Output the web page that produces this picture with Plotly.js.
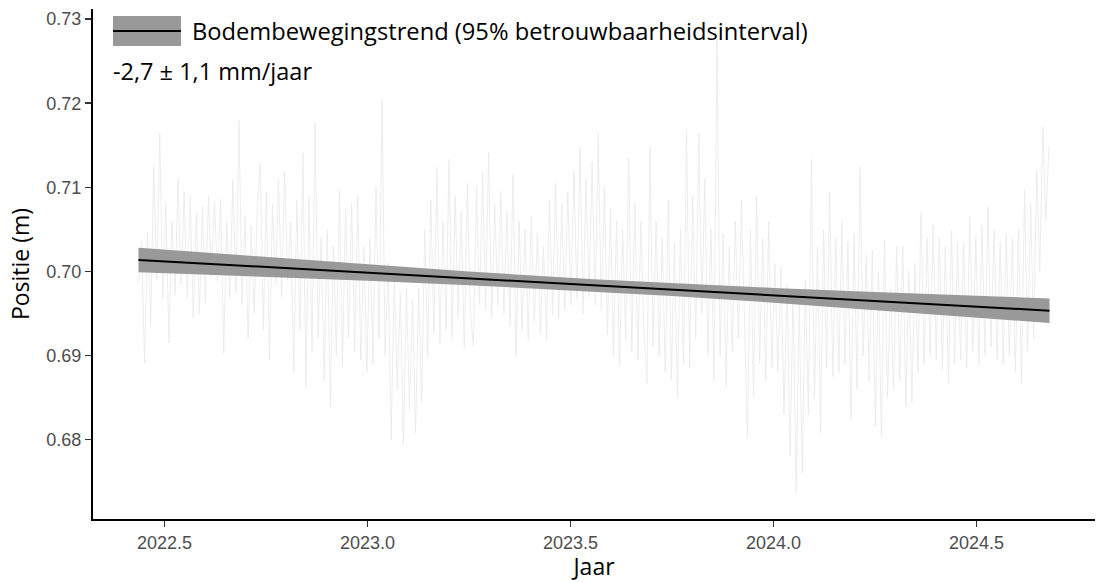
<!DOCTYPE html>
<html>
<head>
<meta charset="utf-8">
<script src="https://cdn.plot.ly/plotly-3.0.1.min.js"></script>
<style>html,body{margin:0;padding:0;background:#fff;}#chart{width:1096px;height:582px;}</style>
</head>
<body>
<div id="chart"></div>
<script>
// Gemeten positie (regelmatig bemonsterd vanaf noiseStart, stap noiseStep jaar)
const noiseStart = 2022.436;
const noiseStep = 0.0075;
const positie = [
  0.6985,0.7035,0.6891,0.7046,0.6935,0.7125,0.6990,0.7164,0.6968,0.7082,
  0.6915,0.7060,0.6972,0.7112,0.6985,0.7095,0.6968,0.7088,0.6945,0.7070,
  0.6950,0.7078,0.6962,0.7090,0.6993,0.7082,0.6988,0.7086,0.6902,0.7060,
  0.6968,0.7110,0.6975,0.7180,0.6960,0.7065,0.6920,0.7055,0.6950,0.7075,
  0.7129,0.6930,0.7095,0.6895,0.7080,0.6985,0.7110,0.6970,0.7118,0.6990,
  0.7060,0.6880,0.7085,0.6930,0.7141,0.6862,0.7090,0.6905,0.7177,0.6920,
  0.7040,0.6870,0.7050,0.6839,0.7030,0.6900,0.7097,0.6887,0.7075,0.6920,
  0.7080,0.6905,0.7090,0.6895,0.7030,0.6880,0.7040,0.6890,0.7100,0.6920,
  0.7204,0.6900,0.7010,0.6800,0.6995,0.6860,0.6975,0.6794,0.6980,0.6835,
  0.6965,0.6808,0.6980,0.6845,0.7050,0.6899,0.7085,0.6925,0.7124,0.6915,
  0.7060,0.6930,0.7133,0.6920,0.7090,0.6945,0.7070,0.6909,0.7105,0.6950,
  0.6912,0.7100,0.6960,0.7118,0.6955,0.7141,0.6945,0.7080,0.6960,0.7095,
  0.6950,0.7070,0.6935,0.7115,0.6899,0.7060,0.6930,0.7050,0.6919,0.7065,
  0.6940,0.7045,0.6925,0.7030,0.6919,0.7085,0.6950,0.7105,0.6945,0.7080,
  0.6955,0.7095,0.6960,0.7120,0.6968,0.7148,0.6950,0.7110,0.6970,0.7130,
  0.6960,0.7164,0.6955,0.7100,0.6925,0.7075,0.6900,0.7060,0.6887,0.7050,
  0.6920,0.7135,0.6905,0.7080,0.6895,0.7060,0.6930,0.6867,0.7148,0.6910,
  0.7060,0.6900,0.7040,0.6880,0.7085,0.6870,0.7035,0.6851,0.7050,0.6890,
  0.7168,0.6885,0.7090,0.6920,0.7164,0.6950,0.7110,0.6900,0.7050,0.6870,
  0.7280,0.6900,0.7045,0.6863,0.7030,0.6905,0.7060,0.6920,0.7085,0.6930,
  0.6803,0.7050,0.6851,0.7089,0.6890,0.7040,0.6870,0.7060,0.6885,0.7010,
  0.6880,0.7005,0.6830,0.6985,0.6780,0.6975,0.6737,0.6960,0.6760,0.6990,
  0.6830,0.7133,0.6850,0.7030,0.6808,0.7050,0.6885,0.7095,0.6875,0.7040,
  0.6880,0.7060,0.6890,0.7035,0.6823,0.7045,0.6860,0.7124,0.6900,0.7020,
  0.6870,0.7025,0.6815,0.7000,0.6803,0.7037,0.6850,0.6980,0.6860,0.7030,
  0.6870,0.7030,0.6839,0.7000,0.6845,0.7010,0.6880,0.7070,0.6890,0.7040,
  0.6900,0.7055,0.6895,0.7040,0.6883,0.7030,0.6867,0.7049,0.6890,0.7035,
  0.6895,0.7035,0.6885,0.7065,0.6905,0.7040,0.6890,0.7055,0.6900,0.7077,
  0.6910,0.7050,0.6895,0.7035,0.6890,0.7045,0.6900,0.7040,0.6880,0.7050,
  0.6867,0.7097,0.6905,0.7080,0.6920,0.7120,0.7000,0.7172,0.7060,0.7150
];

// Trend en 95% betrouwbaarheidsinterval
const trendX     = [2022.436, 2022.75, 2023.0, 2023.25, 2023.558, 2023.75, 2024.0, 2024.25, 2024.5, 2024.68];
const trendY     = [0.70137, 0.70053, 0.69985, 0.69918, 0.69835, 0.69784, 0.69716, 0.69649, 0.69582, 0.69533];
const bandLower  = [0.69991, 0.69936, 0.69889, 0.69837, 0.69762, 0.69708, 0.69628, 0.69542, 0.69453, 0.69387];
const bandUpper  = [0.70283, 0.70170, 0.70081, 0.69999, 0.69908, 0.69860, 0.69804, 0.69756, 0.69711, 0.69679];

const yTicks = [0.68, 0.69, 0.70, 0.71, 0.72, 0.73];
const xTicks = [2022.5, 2023.0, 2023.5, 2024.0, 2024.5];

const legendLabel = 'Bodembewegingstrend (95% betrouwbaarheidsinterval)';
const rateLabel = '-2,7 ± 1,1 mm/jaar';

const noiseX = positie.map((_, i) => noiseStart + i * noiseStep);

const textFont = 'Open Sans, Noto Sans, sans-serif';
const tickFont = 'Liberation Sans, Arial, sans-serif';

const traces = [
  {x: noiseX, y: positie, type: 'scatter', mode: 'lines',
   line: {color: 'rgb(233,233,233)', width: 0.8}, hoverinfo: 'skip', showlegend: false},
  {x: trendX, y: bandLower, type: 'scatter', mode: 'lines',
   line: {width: 0, color: 'rgba(0,0,0,0)'}, showlegend: false, hoverinfo: 'skip'},
  {x: trendX, y: bandUpper, type: 'scatter', mode: 'lines', fill: 'tonexty',
   fillcolor: 'rgb(153,153,153)', line: {width: 0, color: 'rgba(0,0,0,0)'}, showlegend: false, hoverinfo: 'skip'},
  {x: trendX, y: trendY, type: 'scatter', mode: 'lines',
   line: {color: '#000', width: 2}, showlegend: false}
];

const L = 93, R = 1, T = 9, B = 63, W = 1096, H = 582;
const pw = W - L - R, ph = H - T - B;
const px = v => (v - L) / pw;
const py = v => (H - B - v) / ph;

const layout = {
  width: W, height: H,
  margin: {l: L, r: R, t: T, b: B, pad: 0},
  paper_bgcolor: '#fff', plot_bgcolor: '#fff',
  showlegend: false,
  xaxis: {
    range: [2022.324, 2024.792],
    tickvals: xTicks, ticktext: xTicks.map(v => v.toFixed(1)),
    ticks: 'outside', ticklen: 6, tickwidth: 1.5, tickcolor: '#333',
    showline: true, linecolor: '#000', linewidth: 2,
    showgrid: false, zeroline: false,
    tickfont: {family: tickFont, size: 18, color: '#4d4d4d'},
    title: {text: 'Jaar', font: {family: textFont, size: 23, color: '#000'}, standoff: 10}
  },
  yaxis: {
    range: [0.67057, 0.7312],
    tickvals: yTicks, ticktext: yTicks.map(v => v.toFixed(2)),
    ticks: 'outside', ticklen: 6, tickwidth: 1.5, tickcolor: '#333',
    showline: true, linecolor: '#000', linewidth: 2,
    showgrid: false, zeroline: false,
    tickfont: {family: tickFont, size: 18, color: '#4d4d4d'},
    title: {text: 'Positie (m)', font: {family: textFont, size: 23, color: '#000'}, standoff: 10}
  },
  shapes: [
    {type: 'rect', xref: 'paper', yref: 'paper', x0: px(113), x1: px(181), y0: py(46), y1: py(16),
     fillcolor: 'rgb(153,153,153)', line: {width: 0}},
    {type: 'line', xref: 'paper', yref: 'paper', x0: px(113), x1: px(181), y0: py(31), y1: py(31),
     line: {color: '#000', width: 2}}
  ],
  annotations: [
    {xref: 'paper', yref: 'paper', x: px(190), y: py(31), xanchor: 'left', yanchor: 'middle',
     text: legendLabel, showarrow: false, font: {family: textFont, size: 23.7, color: '#000'}},
    {xref: 'paper', yref: 'paper', x: px(111), y: py(71), xanchor: 'left', yanchor: 'middle',
     text: rateLabel, showarrow: false, font: {family: textFont, size: 23.5, color: '#000'}}
  ]
};

Plotly.newPlot('chart', traces, layout, {displayModeBar: false, staticPlot: true});
</script>
</body>
</html>
